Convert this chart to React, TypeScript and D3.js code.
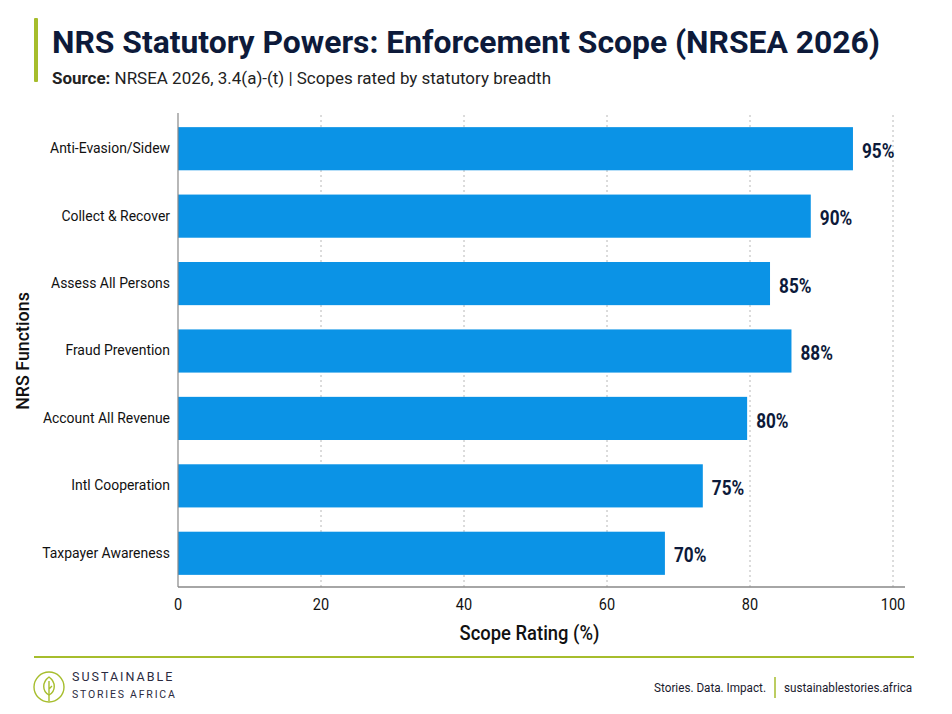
import * as d3 from "d3";

// chart data
const functions = [
  "Anti-Evasion/Sidew",
  "Collect & Recover",
  "Assess All Persons",
  "Fraud Prevention",
  "Account All Revenue",
  "Intl Cooperation",
  "Taxpayer Awareness",
];
const ratingLabels = [95, 90, 85, 88, 80, 75, 70];
// bar lengths as drawn (slightly short of their labels in the source)
const barValues = [94.4, 88.5, 82.8, 85.8, 79.6, 73.4, 68.1];
const xTicks = [0, 20, 40, 60, 80, 100];

const width = 952,
  height = 714;
const margin = { top: 115, right: 47, bottom: 127, left: 178 };

const navy = "#0d1a3a";
const green = "#a6bd2c";
const barColor = "#0b93e6";
const font = "Roboto, 'Noto Sans', sans-serif";

// narrow text a bit, the source uses a condensed face
const squeeze = (x: number, y: number, s = 0.88) => `translate(${x} ${y}) scale(${s} 1)`;

export default function App() {
  const x = d3
    .scaleLinear()
    .domain([0, 100])
    .range([margin.left, margin.left + 715]);
  const y = d3
    .scaleBand()
    .domain(functions)
    .range([margin.top, height - margin.bottom])
    .paddingInner(0.36)
    .paddingOuter(0.18);
  const plotRight = width - margin.right;
  const plotBottom = height - margin.bottom;

  return (
    <div style={{ position: "absolute", left: 0, top: 0 }}>
      <svg width={width} height={height} style={{ background: "#fff", display: "block" }} fontFamily={font}>
        {/* header */}
        <rect x={34} y={18} width={4} height={64} fill={green} rx={1} />
        <text x={52} y={53} fontSize={32} fontWeight={700} fill={navy} textLength={828} lengthAdjust="spacingAndGlyphs">
          NRS Statutory Powers: Enforcement Scope (NRSEA 2026)
        </text>
        <text x={52} y={84} fontSize={16.5} fill="#222" textLength={499} lengthAdjust="spacingAndGlyphs">
          <tspan fontWeight={700}>Source:</tspan> NRSEA 2026, 3.4(a)-(t) | Scopes rated by statutory breadth
        </text>

        {/* grid */}
        {xTicks.slice(1).map((t) => (
          <line key={t} x1={x(t)} x2={x(t)} y1={margin.top} y2={plotBottom} stroke="#b8b8b8" strokeDasharray="2,3" />
        ))}

        {/* bars */}
        {functions.map((f, i) => {
          const cy = y(f)! + y.bandwidth() / 2;
          return (
            <g key={f}>
              <rect x={x(0)} y={y(f)} width={x(barValues[i]) - x(0)} height={y.bandwidth()} fill={barColor} />
              <text transform={squeeze(x(barValues[i]) + 9, cy + 2, 0.86)} dy="0.36em" fontSize={20} fontWeight={700} fill={navy}>
                {ratingLabels[i]}%
              </text>
              <text transform={squeeze(x(0) - 8, cy - 1, 0.9)} dy="0.35em" textAnchor="end" fontSize={15.5} fill="#111">
                {f}
              </text>
            </g>
          );
        })}

        {/* axes */}
        <line x1={x(0)} x2={x(0)} y1={margin.top - 2} y2={plotBottom} stroke="#888" strokeWidth={1.2} />
        <line x1={x(0)} x2={plotRight} y1={plotBottom} y2={plotBottom} stroke="#888" strokeWidth={1.5} />
        {xTicks.map((t) => (
          <text key={t} transform={squeeze(x(t), plotBottom + 23, 0.88)} textAnchor="middle" fontSize={16.5} fill="#111">
            {t}
          </text>
        ))}
        <text
          transform={squeeze((x(0) + plotRight) / 2 - 12, plotBottom + 53, 0.92)}
          textAnchor="middle"
          fontSize={20}
          fontWeight={500}
          fill="#111"
        >
          Scope Rating (%)
        </text>
        <text
          transform={`translate(29 ${(margin.top + plotBottom) / 2}) rotate(-90) scale(0.94 1)`}
          textAnchor="middle"
          fontSize={19}
          fontWeight={500}
          fill="#111"
        >
          NRS Functions
        </text>

        {/* footer */}
        <line x1={34} x2={914} y1={657} y2={657} stroke={green} strokeWidth={2} />
        <g transform="translate(49 687)" fill="none" stroke={green} strokeWidth={1.4}>
          <circle r={15} />
          <path d="M0,-10 C7,-5 7,4 0,8 C-7,4 -7,-5 0,-10 Z" />
          <path d="M0,-6 L0,14 M0,2 L3,-1" />
        </g>
        <text x={72} y={681} fontSize={12.5} letterSpacing={2} fill="#2a2a40">
          SUSTAINABLE
        </text>
        <text x={72} y={698} fontSize={10.5} letterSpacing={1.8} fill="#2a2a40">
          STORIES AFRICA
        </text>
        <text transform={squeeze(766, 692, 0.9)} textAnchor="end" fontSize={13} fill="#1a1a2e">
          Stories. Data. Impact.
        </text>
        <line x1={775} x2={775} y1={677} y2={698} stroke={green} strokeWidth={1.5} />
        <text transform={squeeze(784, 692, 0.9)} fontSize={13} fill="#1a1a2e">
          sustainablestories.africa
        </text>
      </svg>
    </div>
  );
}
